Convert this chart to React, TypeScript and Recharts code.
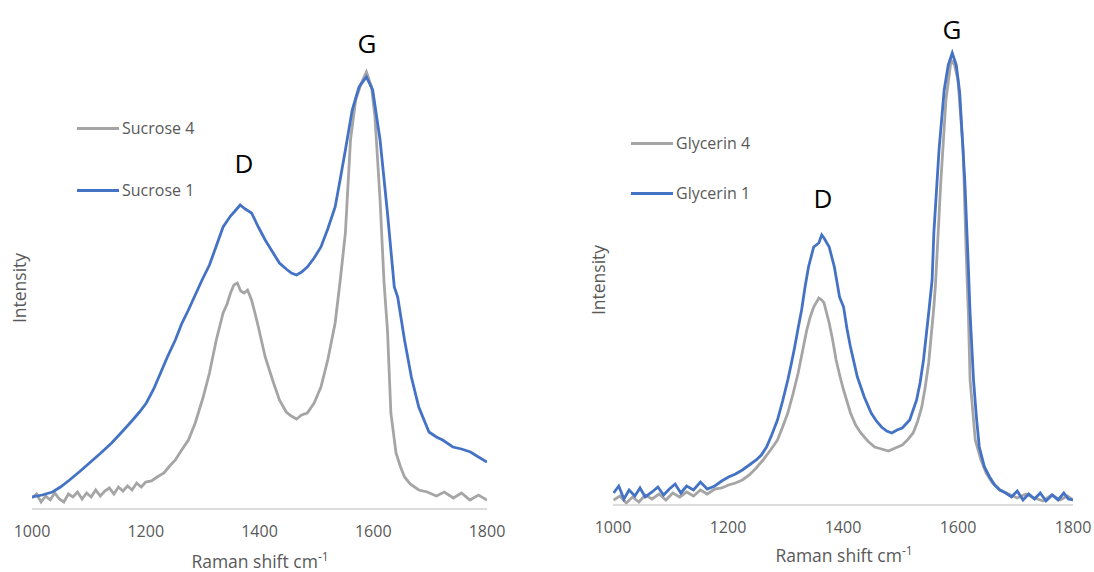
import * as React from "react";
import { LineChart, Line, XAxis, YAxis, Legend } from "recharts";

// Sucrose panel (left)
const sucrose4Shift = [1000, 1008, 1016, 1024, 1032, 1040, 1048, 1056, 1064, 1072, 1080, 1088, 1096, 1104, 1112, 1120, 1128, 1136, 1144, 1152, 1160, 1168, 1176, 1184, 1192, 1200, 1210, 1220, 1232, 1242, 1252, 1262, 1275, 1287, 1301, 1312, 1324, 1336, 1343, 1349, 1355, 1361, 1367, 1373, 1379, 1386, 1392, 1398, 1410, 1423, 1435, 1447, 1456, 1465, 1474, 1484, 1496, 1508, 1520, 1533, 1542, 1551, 1560, 1569, 1579, 1588, 1597, 1603, 1612, 1619, 1625, 1631, 1640, 1648, 1655, 1665, 1680, 1695, 1711, 1725, 1741, 1755, 1770, 1785, 1800];
const sucrose4Intensity = [11, 15, 7, 13, 9, 16, 10, 7, 15, 12, 17, 10, 16, 12, 19, 13, 18, 21, 15, 22, 18, 23, 19, 26, 22, 27, 28, 32, 36, 43, 49, 58, 69, 86, 112, 136, 169, 196, 205, 216, 224, 226, 218, 216, 219, 209, 196, 182, 152, 129, 109, 97, 93, 90, 94, 96, 106, 122, 149, 186, 229, 276, 369, 409, 426, 437, 422, 392, 309, 226, 179, 96, 56, 42, 32, 25, 19, 17, 13, 17, 11, 16, 9, 14, 9];

const sucrose1Shift = [1000, 1018, 1036, 1050, 1066, 1085, 1103, 1121, 1140, 1158, 1177, 1189, 1201, 1214, 1226, 1238, 1252, 1263, 1275, 1287, 1299, 1312, 1324, 1336, 1349, 1357, 1366, 1375, 1386, 1398, 1410, 1423, 1435, 1447, 1456, 1465, 1474, 1484, 1496, 1508, 1520, 1533, 1542, 1551, 1563, 1575, 1588, 1599, 1612, 1625, 1637, 1643, 1655, 1667, 1680, 1698, 1711, 1722, 1740, 1755, 1771, 1785, 1800];
const sucrose1Intensity = [12, 14, 17, 22, 29, 38, 47, 56, 66, 77, 89, 97, 106, 120, 136, 152, 169, 185, 199, 214, 229, 244, 263, 282, 293, 298, 304, 300, 296, 282, 269, 257, 246, 240, 236, 234, 237, 242, 251, 262, 280, 302, 330, 359, 399, 422, 432, 419, 369, 296, 222, 212, 169, 132, 102, 77, 72, 69, 62, 60, 57, 52, 47];

// Glycerin panel (right)
const glycerin4Shift = [1001, 1012, 1023, 1034, 1045, 1056, 1068, 1080, 1092, 1104, 1116, 1128, 1140, 1152, 1164, 1177, 1189, 1201, 1213, 1225, 1237, 1249, 1261, 1274, 1286, 1295, 1304, 1313, 1322, 1330, 1337, 1343, 1349, 1358, 1363, 1367, 1376, 1382, 1388, 1395, 1401, 1413, 1422, 1431, 1443, 1455, 1467, 1479, 1491, 1503, 1512, 1522, 1530, 1537, 1543, 1549, 1558, 1561, 1570, 1579, 1588, 1594, 1600, 1609, 1614, 1618, 1621, 1626, 1630, 1640, 1649, 1660, 1673, 1688, 1703, 1718, 1733, 1748, 1763, 1778, 1790, 1800];
const glycerin4Intensity = [5, 9, 2, 8, 3, 10, 6, 11, 5, 12, 8, 13, 9, 15, 11, 16, 17, 20, 22, 25, 30, 37, 45, 55, 65, 78, 92, 111, 132, 155, 175, 188, 198, 207, 205, 202, 182, 165, 145, 128, 115, 92, 80, 72, 64, 58, 56, 54, 57, 60, 65, 72, 84, 98, 118, 142, 198, 222, 322, 405, 445, 440, 425, 355, 255, 192, 125, 92, 65, 45, 32, 22, 15, 11, 7, 11, 7, 4, 10, 5, 9, 5];

const glycerin1Shift = [1001, 1010, 1019, 1028, 1038, 1047, 1056, 1068, 1078, 1088, 1098, 1108, 1118, 1128, 1140, 1152, 1164, 1177, 1189, 1201, 1213, 1225, 1237, 1249, 1258, 1267, 1276, 1286, 1295, 1304, 1310, 1316, 1322, 1328, 1334, 1340, 1349, 1358, 1363, 1367, 1376, 1385, 1394, 1401, 1407, 1413, 1425, 1437, 1449, 1458, 1467, 1476, 1485, 1494, 1503, 1516, 1528, 1534, 1540, 1549, 1555, 1558, 1567, 1576, 1583, 1590, 1597, 1603, 1612, 1618, 1621, 1627, 1632, 1637, 1646, 1655, 1664, 1673, 1683, 1693, 1703, 1713, 1723, 1733, 1743, 1753, 1764, 1774, 1784, 1792, 1800];
const glycerin1Intensity = [12, 19, 6, 15, 9, 17, 8, 13, 18, 10, 16, 21, 12, 19, 15, 23, 16, 19, 24, 28, 31, 35, 40, 45, 50, 58, 70, 85, 104, 125, 141, 158, 177, 195, 218, 238, 258, 262, 270, 267, 258, 238, 208, 198, 176, 158, 128, 108, 92, 84, 78, 74, 72, 75, 77, 85, 105, 122, 145, 192, 225, 272, 355, 415, 440, 452, 440, 412, 322, 238, 192, 125, 88, 58, 38, 28, 20, 15, 12, 8, 14, 5, 11, 6, 12, 4, 10, 5, 12, 6, 5];

const shiftTicks = [1000, 1200, 1400, 1600, 1800];

const GRAY = "#A5A5A5";
const BLUE = "#4472C4";
const TEXT = "#595959";
const FONT = "'Open Sans', sans-serif";

const toPoints = (xs: number[], ys: number[]) => xs.map((x, i) => ({ x, y: ys[i] }));

function LegendBox({ payload, gap, order }: any) {
  const items = [...(payload || [])].sort(
    (a: any, b: any) => order.indexOf(a.value) - order.indexOf(b.value)
  );
  return (
    <div style={{ fontFamily: FONT, fontSize: 16, color: TEXT }}>
      {items.map((p: any, i: number) => (
        <div key={p.value} style={{ display: "flex", alignItems: "center", height: 20, marginTop: i === 0 ? 0 : gap - 20 }}>
          <div style={{ width: 42, height: 3, background: p.color, marginRight: 3 }} />
          <span>{p.value}</span>
        </div>
      ))}
    </div>
  );
}

type PanelProps = {
  left: number;
  margin: { top: number; right: number; bottom: number; left: number };
  series: { name: string; color: string; data: { x: number; y: number }[] }[];
  legendPos: { left: number; top: number };
  legendGap: number;
};

function Panel({ left, margin, series, legendPos, legendGap }: PanelProps) {
  const order = series.map((s) => s.name);
  return (
    <div style={{ position: "absolute", left, top: 0 }}>
      <LineChart width={547} height={572} margin={margin}>
        <XAxis
          type="number"
          dataKey="x"
          domain={[1000, 1800]}
          ticks={shiftTicks}
          allowDataOverflow
          tickLine={false}
          tickMargin={11}
          axisLine={{ stroke: "#D0D0D0", strokeWidth: 1.5 }}
          tick={{ fill: TEXT, fontSize: 16, fontFamily: FONT }}
        />
        <YAxis type="number" domain={[0, 460]} width={0} hide />
        <Legend
          verticalAlign="middle"
          align="center"
          layout="vertical"
          wrapperStyle={{ left: legendPos.left, top: legendPos.top, width: "auto" }}
          content={(props: any) => <LegendBox {...props} gap={legendGap} order={order} />}
        />
        {series.map((s) => (
          <Line
            key={s.name}
            name={s.name}
            data={s.data}
            dataKey="y"
            type="linear"
            stroke={s.color}
            strokeWidth={2.8}
            dot={false}
            isAnimationActive={false}
          />
        ))}
      </LineChart>
    </div>
  );
}

const textBase: React.CSSProperties = {
  position: "absolute",
  fontFamily: FONT,
  lineHeight: 1,
  whiteSpace: "nowrap",
  transform: "translate(-50%, -50%)",
};

function AxisTitle({ x, y }: { x: number; y: number }) {
  return (
    <div style={{ ...textBase, left: x, top: y, fontSize: 17.5, color: TEXT }}>
      Raman shift cm<sup style={{ fontSize: 12 }}>-1</sup>
    </div>
  );
}

function YTitle({ x, y }: { x: number; y: number }) {
  return (
    <div style={{ ...textBase, left: x, top: y, fontSize: 17.5, color: TEXT, transform: "translate(-50%, -50%) rotate(-90deg)" }}>
      Intensity
    </div>
  );
}

function Peak({ x, y, text }: { x: number; y: number; text: string }) {
  return <div style={{ ...textBase, left: x, top: y, fontSize: 26, color: "#000" }}>{text}</div>;
}

export default function App() {
  return (
    <div style={{ position: "absolute", left: 0, top: 0, width: 1094, height: 572, background: "#fff", overflow: "hidden" }}>
      <Panel
        left={0}
        margin={{ top: 49, right: 60, bottom: 33, left: 32 }}
        series={[
          { name: "Sucrose 4", color: GRAY, data: toPoints(sucrose4Shift, sucrose4Intensity) },
          { name: "Sucrose 1", color: BLUE, data: toPoints(sucrose1Shift, sucrose1Intensity) },
        ]}
        legendPos={{ left: 77, top: 118 }}
        legendGap={62}
      />
      <Panel
        left={547}
        margin={{ top: 45, right: 21, bottom: 37, left: 66 }}
        series={[
          { name: "Glycerin 4", color: GRAY, data: toPoints(glycerin4Shift, glycerin4Intensity) },
          { name: "Glycerin 1", color: BLUE, data: toPoints(glycerin1Shift, glycerin1Intensity) },
        ]}
        legendPos={{ left: 84, top: 133 }}
        legendGap={50}
      />
      <AxisTitle x={260} y={561} />
      <AxisTitle x={844} y={555} />
      <YTitle x={20} y={288} />
      <YTitle x={599} y={280} />
      <Peak x={367} y={43} text="G" />
      <Peak x={244} y={163} text="D" />
      <Peak x={952} y={29} text="G" />
      <Peak x={823} y={198} text="D" />
    </div>
  );
}
